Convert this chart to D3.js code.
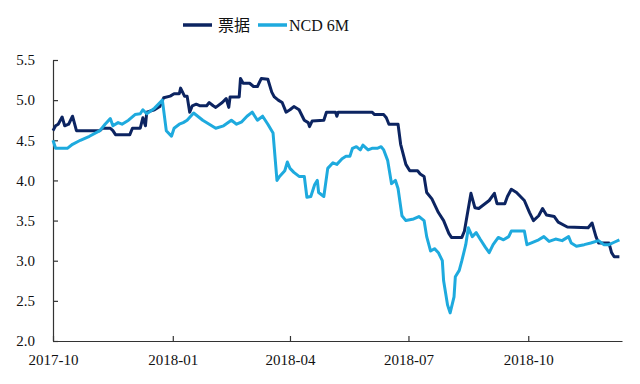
<html>
<head>
<meta charset="utf-8">
<title>票据 vs NCD 6M</title>
<script src="https://d3js.org/d3.v7.min.js"></script>
<style>
  body { margin: 0; background: #fff; }
  svg text { font-family: "Times New Roman", "Liberation Serif", "DejaVu Serif", "Noto Sans CJK SC", serif; font-weight: normal; }
</style>
</head>
<body>
<div id="chart"></div>
<script>
// ---- data ----
const seriesNames = ["票据", "NCD 6M"];
const seriesColors = ["#0c2461", "#1eaade"];
const yTicks = [2.0, 2.5, 3.0, 3.5, 4.0, 4.5, 5.0, 5.5];
const xTicks = ["2017-10-01", "2018-01-01", "2018-04-01", "2018-07-01", "2018-10-01"];

const billDates = ["2017-10-01","2017-10-03","2017-10-05","2017-10-08","2017-10-10","2017-10-13","2017-10-16","2017-10-19",
  "2017-11-06","2017-11-08","2017-11-14","2017-11-16","2017-11-18","2017-11-29","2017-12-01","2017-12-07","2017-12-09",
  "2017-12-11","2017-12-12","2017-12-18","2017-12-22","2017-12-25","2017-12-30","2018-01-02","2018-01-06","2018-01-07",
  "2018-01-10","2018-01-12","2018-01-14","2018-01-16","2018-01-19","2018-01-22","2018-01-27","2018-01-29","2018-02-01",
  "2018-02-03","2018-02-08","2018-02-11","2018-02-13","2018-02-14","2018-02-21","2018-02-22","2018-02-24","2018-03-01",
  "2018-03-04","2018-03-07","2018-03-10","2018-03-15","2018-03-18","2018-03-20","2018-03-23","2018-03-26","2018-03-29",
  "2018-04-01","2018-04-04","2018-04-08","2018-04-12","2018-04-15","2018-04-16","2018-04-18","2018-04-27","2018-04-29",
  "2018-05-06","2018-05-07","2018-05-08","2018-06-03","2018-06-05","2018-06-12","2018-06-14","2018-06-16","2018-06-23",
  "2018-06-25","2018-06-29","2018-07-02","2018-07-08","2018-07-10","2018-07-13","2018-07-15","2018-07-19","2018-07-24",
  "2018-07-28","2018-08-01","2018-08-03","2018-08-11","2018-08-13","2018-08-15","2018-08-18","2018-08-21","2018-08-24",
  "2018-08-28","2018-09-01","2018-09-05","2018-09-07","2018-09-13","2018-09-15","2018-09-18","2018-09-22","2018-09-28",
  "2018-10-02","2018-10-05","2018-10-09","2018-10-12","2018-10-15","2018-10-21","2018-10-24","2018-10-31","2018-11-16",
  "2018-11-19","2018-11-22","2018-11-24","2018-12-02","2018-12-04","2018-12-06","2018-12-10"];
const billValues = [4.62,4.68,4.70,4.79,4.68,4.70,4.80,4.62,
  4.62,4.65,4.65,4.62,4.57,4.57,4.65,4.65,4.78,
  4.68,4.85,4.88,4.92,5.03,5.05,5.08,5.08,5.15,
  5.05,5.05,4.85,4.93,4.95,4.93,4.93,4.97,4.93,
  4.91,4.97,5.02,4.91,5.04,5.04,5.27,5.21,5.21,
  5.17,5.17,5.27,5.26,5.10,5.04,5.00,4.97,4.85,
  4.88,4.92,4.88,4.75,4.72,4.67,4.74,4.75,4.85,
  4.85,4.80,4.85,4.85,4.82,4.82,4.78,4.70,4.70,
  4.45,4.20,4.12,4.12,4.08,4.05,3.85,3.77,3.60,
  3.50,3.34,3.29,3.29,3.37,3.56,3.84,3.66,3.65,
  3.70,3.75,3.84,3.71,3.71,3.80,3.89,3.85,3.75,
  3.60,3.50,3.56,3.65,3.57,3.55,3.48,3.42,3.41,
  3.47,3.30,3.22,3.22,3.10,3.05,3.05];

const ncdDates = ["2017-10-01","2017-10-03","2017-10-12","2017-10-16","2017-10-22","2017-10-29","2017-11-06","2017-11-10",
  "2017-11-14","2017-11-16","2017-11-20","2017-11-23","2017-11-28","2017-12-03","2017-12-07","2017-12-09","2017-12-12",
  "2017-12-18","2017-12-24","2017-12-27","2017-12-31","2018-01-02","2018-01-06","2018-01-09","2018-01-12","2018-01-17",
  "2018-01-24","2018-01-29","2018-02-03","2018-02-09","2018-02-15","2018-02-19","2018-02-23","2018-02-27","2018-03-03",
  "2018-03-07","2018-03-11","2018-03-15","2018-03-19","2018-03-22","2018-03-24","2018-03-28","2018-03-30","2018-04-01",
  "2018-04-04","2018-04-08","2018-04-12","2018-04-14","2018-04-17","2018-04-20","2018-04-22","2018-04-23","2018-04-27",
  "2018-04-30","2018-05-04","2018-05-07","2018-05-11","2018-05-14","2018-05-17","2018-05-19","2018-05-22","2018-05-25",
  "2018-05-27","2018-05-31","2018-06-03","2018-06-07","2018-06-10","2018-06-12","2018-06-15","2018-06-18","2018-06-21",
  "2018-06-23","2018-06-26","2018-06-29","2018-07-05","2018-07-09","2018-07-13","2018-07-15","2018-07-18","2018-07-21",
  "2018-07-24","2018-07-27","2018-07-28","2018-07-31","2018-08-02","2018-08-05","2018-08-06","2018-08-09","2018-08-11",
  "2018-08-14","2018-08-16","2018-08-19","2018-08-22","2018-08-25","2018-08-29","2018-09-01","2018-09-04","2018-09-08",
  "2018-09-12","2018-09-16","2018-09-18","2018-09-28","2018-09-30","2018-10-03","2018-10-09","2018-10-13","2018-10-17",
  "2018-10-22","2018-10-27","2018-11-01","2018-11-03","2018-11-07","2018-11-13","2018-11-18","2018-11-24","2018-11-28",
  "2018-12-02","2018-12-06","2018-12-10"];
const ncdValues = [4.50,4.40,4.40,4.45,4.50,4.55,4.62,4.70,
  4.77,4.68,4.72,4.70,4.75,4.82,4.83,4.88,4.83,
  4.90,5.00,4.62,4.55,4.65,4.70,4.72,4.75,4.84,
  4.75,4.70,4.65,4.68,4.75,4.70,4.73,4.80,4.85,
  4.75,4.80,4.70,4.59,4.00,4.05,4.12,4.23,4.15,
  4.10,4.05,4.05,3.79,3.80,3.95,4.00,3.85,3.80,
  4.15,4.22,4.20,4.27,4.30,4.30,4.40,4.42,4.38,
  4.44,4.38,4.40,4.40,4.42,4.38,4.25,3.96,4.00,
  3.90,3.56,3.50,3.52,3.55,3.50,3.30,3.12,3.15,
  3.10,3.00,2.75,2.45,2.35,2.55,2.80,2.88,3.00,
  3.20,3.41,3.30,3.35,3.27,3.17,3.10,3.20,3.29,
  3.26,3.30,3.37,3.37,3.20,3.22,3.26,3.30,3.24,
  3.27,3.25,3.30,3.22,3.18,3.20,3.22,3.25,3.20,
  3.20,3.23,3.26];

// ---- chart ----
const w = 640, h = 384;
const margin = { top: 60, right: 18, bottom: 43, left: 53 },
    width = w - margin.left - margin.right,
    height = h - margin.top - margin.bottom;

const parse = d3.timeParse("%Y-%m-%d");
const fmt = d3.timeFormat("%Y-%m");

const series = [
  billDates.map((d, i) => ({ date: parse(d), value: billValues[i] })),
  ncdDates.map((d, i) => ({ date: parse(d), value: ncdValues[i] }))
];

const svg = d3.select("#chart").append("svg")
    .attr("width", w)
    .attr("height", h);

const g = svg.append("g")
    .attr("transform", "translate(" + margin.left + "," + margin.top + ")");

const xScale = d3.scaleTime()
    .domain([parse("2017-10-01"), parse("2018-12-12")])
    .range([0, width]);

const yScale = d3.scaleLinear()
    .domain([2.0, 5.5])
    .range([height, 0]);

// axes, ticks pointing inward
const xAxis = d3.axisBottom(xScale)
    .tickValues(xTicks.map(parse))
    .tickFormat(fmt)
    .tickSizeInner(-5)
    .tickSizeOuter(0)
    .tickPadding(13);

const yAxis = d3.axisLeft(yScale)
    .tickValues(yTicks)
    .tickFormat(d3.format(".1f"))
    .tickSizeInner(-5)
    .tickSizeOuter(0)
    .tickPadding(18);

const gx = g.append("g")
    .attr("transform", "translate(0," + height + ")")
    .call(xAxis);

const gy = g.append("g").call(yAxis);

[gx, gy].forEach(a => {
  a.attr("font-family", null);
  a.select(".domain").attr("stroke", "#333").attr("stroke-width", 1.2);
  a.selectAll(".tick line").attr("stroke", "#333").attr("stroke-width", 1.2);
  a.selectAll(".tick text").attr("font-size", 15).attr("fill", "#111");
});

// lines
const line = d3.line()
    .x(d => xScale(d.date))
    .y(d => yScale(d.value));

g.selectAll(".series")
    .data(series).enter()
    .append("path")
    .attr("class", "series")
    .attr("fill", "none")
    .attr("stroke", (d, i) => seriesColors[i])
    .attr("stroke-width", 3)
    .attr("stroke-linejoin", "round")
    .attr("d", line);

// legend
const legendX = [183, 258];
const legend = svg.selectAll(".legend")
    .data(seriesNames).enter()
    .append("g")
    .attr("class", "legend")
    .attr("transform", (d, i) => "translate(" + legendX[i] + ",25)");

legend.append("line")
    .attr("x1", 0).attr("x2", 29)
    .attr("stroke", (d, i) => seriesColors[i])
    .attr("stroke-width", 3.5);

legend.append("text")
    .attr("x", (d, i) => i === 0 ? 35 : 31)
    .attr("dy", "0.35em")
    .attr("font-size", 16)
    .attr("fill", "#111")
    .text(d => d);
</script>
</body>
</html>
